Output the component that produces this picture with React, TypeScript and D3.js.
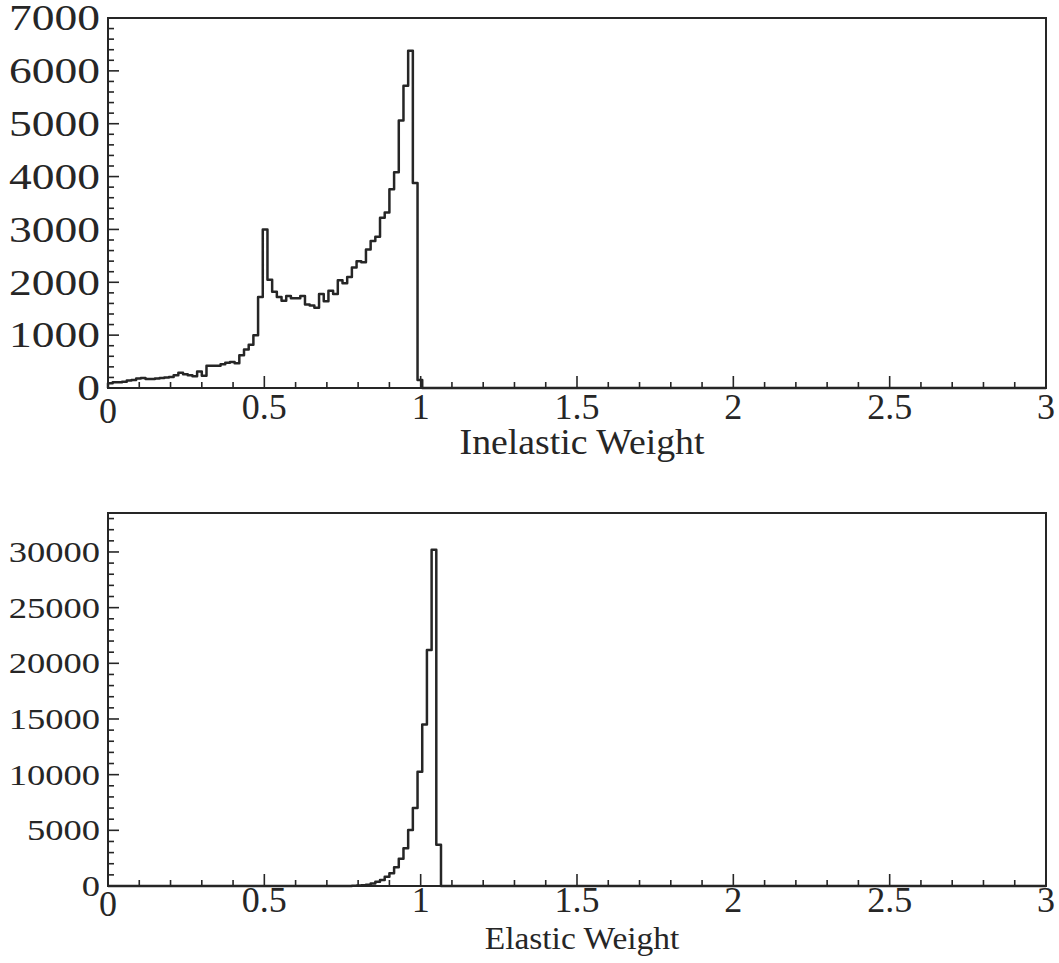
import * as d3 from "d3";
import React, { useEffect, useRef } from "react";

// bin width of both histograms (200 bins on [0, 3])
const binWidth = 0.015;

// Inelastic weight: counts of the first bins starting at x = 0, then empty
const inelasticStart = 0;
const inelasticCounts = [
  90, 110, 110, 120, 140, 150, 180, 190, 170, 170,
  180, 190, 200, 210, 240, 290, 260, 240, 220, 310,
  230, 420, 420, 420, 450, 480, 490, 470, 620, 730,
  820, 1000, 1720, 3000, 2050, 1820, 1720, 1650, 1740, 1700,
  1700, 1740, 1580, 1560, 1520, 1780, 1640, 1840, 1780, 2040,
  1980, 2100, 2280, 2400, 2380, 2620, 2780, 2860, 3220, 3320,
  3760, 4080, 5060, 5720, 6380, 3880, 150,
];

// Elastic weight: counts starting at x = 0.75, empty elsewhere
const elasticStart = 0.75;
const elasticCounts = [
  5, 10, 20, 40, 70, 120, 230, 390, 540, 840,
  1140, 1680, 2450, 3400, 5030, 7000, 10260, 14500, 21200, 30200,
  3700,
];

const xMajorTicks = [0, 0.5, 1, 1.5, 2, 2.5, 3];
const inelasticYTicks = [0, 1000, 2000, 3000, 4000, 5000, 6000, 7000];
const elasticYTicks = [0, 5000, 10000, 15000, 20000, 25000, 30000];

const FONT = "'Liberation Serif', 'Times New Roman', serif";
const INK = "#262626";

function drawPanel(svg, opts) {
  const {
    top, bottom, left, right, yMax, yMinorStep, yTicks, start, counts,
    title, titleY, titleSize, xLabelDy, yFont, yScaleX,
  } = opts;

  const x = d3.scaleLinear([0, 3], [left, right]);
  const y = d3.scaleLinear([0, yMax], [bottom, top]);

  const g = svg.append("g");

  // cadre
  g.append("rect")
    .attr("x", left)
    .attr("y", top)
    .attr("width", right - left)
    .attr("height", bottom - top)
    .attr("fill", "none")
    .attr("stroke", INK)
    .attr("stroke-width", 2);

  // ticks x (vers l'intérieur)
  const xMinor = d3.range(0, 31).map((i) => i / 10);
  g.append("g")
    .selectAll("line")
    .data(xMinor)
    .join("line")
    .attr("x1", (d) => x(d))
    .attr("x2", (d) => x(d))
    .attr("y1", bottom)
    .attr("y2", (d, i) => bottom - (i % 5 === 0 ? 12 : 6))
    .attr("stroke", INK)
    .attr("stroke-width", 1.6);

  // ticks y (vers l'intérieur)
  const yMinor = d3.range(0, yMax + 1, yMinorStep);
  g.append("g")
    .selectAll("line")
    .data(yMinor)
    .join("line")
    .attr("x1", left)
    .attr("x2", (d) => left + (yTicks.includes(d) ? 11 : 6))
    .attr("y1", (d) => y(d))
    .attr("y2", (d) => y(d))
    .attr("stroke", INK)
    .attr("stroke-width", 1.6);

  // labels x
  g.append("g")
    .attr("font-family", FONT)
    .attr("font-size", 36)
    .attr("fill", INK)
    .attr("text-anchor", "middle")
    .selectAll("text")
    .data(xMajorTicks)
    .join("text")
    .attr("x", (d) => x(d))
    .attr("y", (d) => bottom + xLabelDy + (d === 0 ? 4 : 0))
    .text((d) => String(d));

  // labels y (le scan est étiré horizontalement)
  g.append("g")
    .attr("font-family", FONT)
    .attr("font-size", yFont)
    .attr("fill", INK)
    .attr("text-anchor", "end")
    .selectAll("text")
    .data(yTicks)
    .join("text")
    .attr("transform", (d) => `translate(${left - 8},${y(d)}) scale(${yScaleX},1)`)
    .attr("dy", "0.35em")
    .text((d) => String(d));

  // titre de l'axe x
  g.append("text")
    .attr("transform", `translate(${(left + right) / 2 + 5},${titleY}) scale(1.08,1)`)
    .attr("font-family", FONT)
    .attr("font-size", titleSize)
    .attr("fill", INK)
    .attr("text-anchor", "middle")
    .text(title);

  // histogramme en escalier
  const pts = counts.map((c, i) => [start + i * binWidth, c]);
  const end = start + counts.length * binWidth;
  const all = [[0, 0], [start, 0], ...pts, [end, 0], [3, 0]];
  const line = d3
    .line()
    .x((d) => x(d[0]))
    .y((d) => y(d[1]))
    .curve(d3.curveStepAfter);

  g.append("path")
    .attr("d", line(all))
    .attr("fill", "none")
    .attr("stroke", INK)
    .attr("stroke-width", 2.5)
    .attr("stroke-linejoin", "round");
}

export default function App() {
  const ref = useRef(null);

  useEffect(() => {
    const svg = d3.select(ref.current);
    svg.selectAll("*").remove();

    drawPanel(svg, {
      top: 18,
      bottom: 388,
      left: 108,
      right: 1046,
      yMax: 7000,
      yMinorStep: 200,
      yTicks: inelasticYTicks,
      start: inelasticStart,
      counts: inelasticCounts,
      title: "Inelastic Weight",
      titleY: 454,
      titleSize: 35,
      xLabelDy: 31,
      yFont: 35,
      yScaleX: 1.3,
    });

    drawPanel(svg, {
      top: 513,
      bottom: 886,
      left: 108,
      right: 1046,
      yMax: 33500,
      yMinorStep: 1000,
      yTicks: elasticYTicks,
      start: elasticStart,
      counts: elasticCounts,
      title: "Elastic Weight",
      titleY: 949,
      titleSize: 31,
      xLabelDy: 26,
      yFont: 29,
      yScaleX: 1.26,
    });
  }, []);

  return (
    <svg
      ref={ref}
      width={1059}
      height={963}
      style={{ position: "absolute", left: 0, top: 0, background: "#fff" }}
    ></svg>
  );
}
